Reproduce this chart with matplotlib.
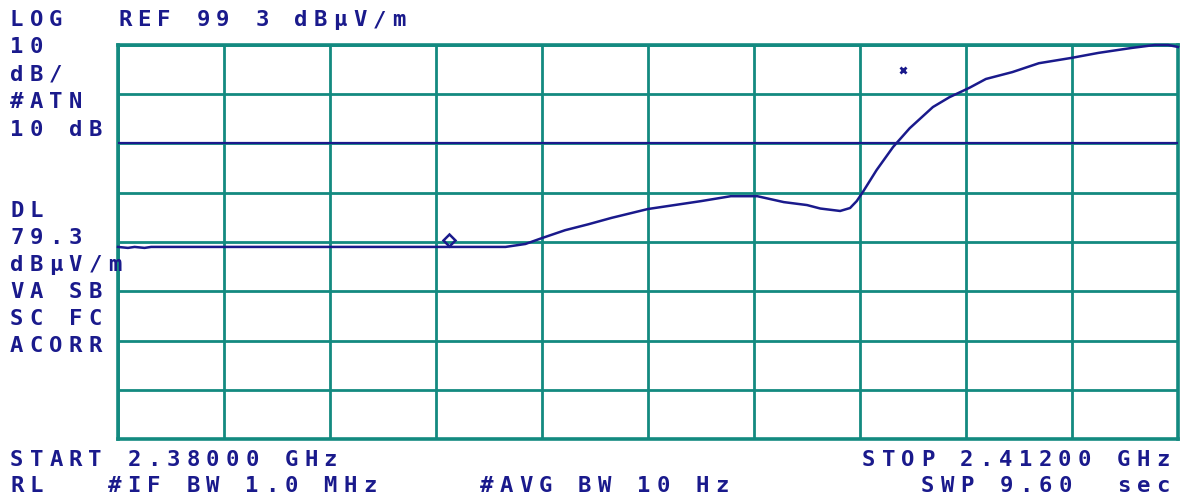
import numpy as np
import matplotlib
matplotlib.use("Agg")
import matplotlib.pyplot as plt

# trace: frequency (MHz) vs level (dBuV/m)
freq_mhz = [2380.0, 2380.3, 2380.5, 2380.8, 2381.0, 2391.7,
            2392.3, 2392.8, 2393.5, 2394.2, 2394.9, 2396.0, 2397.6, 2398.5,
            2399.3, 2400.1, 2400.8, 2401.2, 2401.8, 2402.1, 2402.3, 2402.5,
            2402.9, 2403.4, 2403.9, 2404.6, 2405.1, 2405.7, 2406.2, 2407.0,
            2407.8, 2408.8, 2409.6, 2410.6, 2411.3, 2411.7, 2412.0]
level_db = [58.3, 58.1, 58.3, 58.1, 58.3, 58.3,
            58.9, 60.1, 61.7, 62.9, 64.2, 66.0, 67.6, 68.6,
            68.6, 67.4, 66.8, 66.1, 65.6, 66.2, 67.6, 69.6,
            73.9, 78.6, 82.4, 86.7, 88.7, 90.6, 92.4, 93.8,
            95.6, 96.7, 97.7, 98.7, 99.3, 99.3, 98.9]

start_mhz, stop_mhz = 2380.0, 2412.0
ref_level = 99.3
db_per_div = 10
n_xdiv, n_ydiv = 10, 8
display_line = 79.3

# markers
marker_freq, marker_level = 2390.0, 59.7
delta_freq, delta_level = 2403.7, 94.2

W, H = 1186, 499
GRID = "#138a80"
INK = "#1a1a8c"

fig = plt.figure(figsize=(W / 100, H / 100), dpi=100)
fig.patch.set_facecolor("white")
ax = fig.add_axes([118 / W, 1 - 439 / H, 1060 / W, 394 / H])

bottom = ref_level - n_ydiv * db_per_div
ax.set_xlim(start_mhz, stop_mhz)
ax.set_ylim(bottom, ref_level)
ax.set_xticks(np.linspace(start_mhz, stop_mhz, n_xdiv + 1))
ax.set_yticks(np.linspace(bottom, ref_level, n_ydiv + 1))
ax.tick_params(length=0, labelbottom=False, labelleft=False)
ax.grid(True, color=GRID, lw=2.0)
for s in ax.spines.values():
    s.set_color(GRID)
    s.set_linewidth(2.6)

ax.axhline(display_line, color=INK, lw=1.6, zorder=3)
ax.plot(freq_mhz, level_db, color=INK, lw=1.8, zorder=4, clip_on=False)
ax.plot(marker_freq, marker_level, marker="D", ms=6, mfc="none", mec=INK,
        mew=1.8, zorder=5)
ax.plot(delta_freq, delta_level, marker="x", ms=5, mec=INK, mew=2, zorder=5)

PITCH = 19.6


def term(x, y, s):
    # fixed-pitch screen text, x/y in pixels from the top-left corner
    for i, ch in enumerate(s):
        if ch == " ":
            continue
        fig.text((x + i * PITCH) / W, 1 - y / H, ch, color=INK,
                 family="DejaVu Sans Mono", fontsize=16, weight="bold",
                 ha="left", va="baseline")


term(10, 26, "LOG")
term(118, 26, "REF 99 3 dBµV/m")
left = ["10", "dB/", "#ATN", "10 dB"]
for i, s in enumerate(left):
    term(10, 53 + i * 27.6, s)
left2 = ["DL", "79.3", "dBµV/m", "VA SB", "SC FC", "ACORR"]
for i, s in enumerate(left2):
    term(10, 217 + i * 27.0, s)

term(10, 466, "START 2.38000 GHz")
term(862, 466, "STOP 2.41200 GHz")
term(10, 492, "RL   #IF BW 1.0 MHz")
term(480, 492, "#AVG BW 10 Hz")
term(921, 492, "SWP 9.60  sec")

fig.savefig("out.png", dpi=100, facecolor="white")
